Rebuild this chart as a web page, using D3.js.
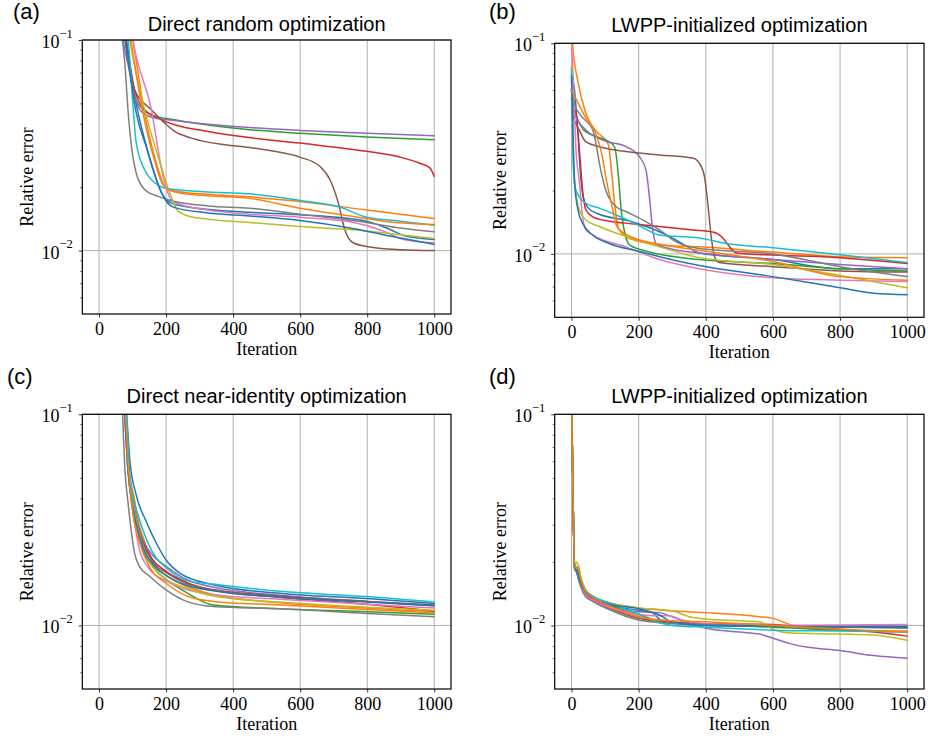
<!DOCTYPE html>
<html>
<head>
<meta charset="utf-8">
<script src="https://cdn.jsdelivr.net/npm/d3@7"></script>
<style>
  html, body { margin: 0; padding: 0; background: #fff; }
  svg { display: block; }
</style>
</head>
<body>
<svg id="chart" width="928" height="739"></svg>
<script>
// ---------------- DATA ----------------
const panelLabels = ["(a)", "(b)", "(c)", "(d)"];
const panelTitles = [
  "Direct random optimization",
  "LWPP-initialized optimization",
  "Direct near-identity optimization",
  "LWPP-initialized optimization"
];
const xTicks = [0, 200, 400, 600, 800, 1000];
const xDomain = [-50, 1050];
const yDomain = [0.005, 0.1];
const yMajorTicks = [0.1, 0.01];
const yMajorExponents = ["\u22121", "\u22122"];
const yMinorTicks = [0.006, 0.007, 0.008, 0.009, 0.02, 0.03, 0.04, 0.05, 0.06, 0.07, 0.08, 0.09];
const xLabel = "Iteration";
const yLabel = "Relative error";

// matplotlib tab10 cycle, 12 runs per panel
const palette = ["#1f77b4","#ff7f0e","#2ca02c","#d62728","#9467bd","#8c564b","#e377c2","#7f7f7f","#bcbd22","#17becf"];
const runColorIndex = [0,1,2,3,4,5,6,7,8,9,0,1];

// each run: [iteration, relative error]
const runsA = [
  [[65,0.14],[77,0.1],[106,0.054],[126,0.0388],[156,0.026],[186,0.0188],[216,0.0168],[256,0.0162],[449,0.0152],[599,0.0148],[798,0.0138],[868,0.0126],[908,0.0118],[1000,0.0113]],
  [[88,0.13],[101,0.1],[136,0.045],[171,0.026],[196,0.0202],[226,0.0192],[325,0.0185],[449,0.018],[599,0.0171],[798,0.0156],[1000,0.0142]],
  [[68,0.14],[80,0.1],[95,0.068],[110,0.052],[130,0.047],[156,0.0441],[226,0.0418],[449,0.0375],[599,0.0361],[798,0.0346],[1000,0.0336]],
  [[70,0.14],[82,0.1],[106,0.058],[136,0.0466],[176,0.0426],[226,0.0396],[325,0.0368],[449,0.0344],[599,0.0324],[798,0.0296],[898,0.0278],[957,0.026],[987,0.0247],[1000,0.0225]],
  [[62,0.14],[72,0.1],[90,0.072],[105,0.055],[126,0.0457],[156,0.043],[226,0.0415],[449,0.0384],[599,0.0372],[798,0.0361],[1000,0.0351]],
  [[66,0.14],[80,0.1],[106,0.058],[156,0.0466],[196,0.0403],[226,0.0368],[276,0.0342],[375,0.0318],[449,0.0309],[524,0.0296],[599,0.0278],[659,0.0251],[689,0.0217],[714,0.0168],[733,0.0126],[758,0.0109],[808,0.0104],[900,0.0101],[1000,0.01]],
  [[90,0.13],[101,0.1],[156,0.0467],[191,0.0225],[216,0.0174],[246,0.0165],[325,0.0156],[449,0.0149],[599,0.0144],[749,0.0137],[848,0.0124],[908,0.0113],[1000,0.0109]],
  [[62,0.14],[70,0.1],[77,0.077],[87,0.045],[97,0.031],[111,0.0233],[136,0.0195],[176,0.0181],[226,0.0171],[325,0.0163],[449,0.0159],[599,0.0149],[798,0.0136],[898,0.0128],[1000,0.0123]],
  [[82,0.13],[92,0.1],[126,0.054],[176,0.028],[211,0.0188],[236,0.0154],[266,0.0146],[325,0.0141],[449,0.0136],[599,0.013],[798,0.0124],[898,0.0119],[1000,0.0114]],
  [[75,0.14],[87,0.1],[111,0.0324],[136,0.0242],[166,0.021],[196,0.0198],[226,0.0195],[325,0.019],[449,0.0186],[599,0.0173],[718,0.0161],[798,0.0144],[898,0.0138],[1000,0.0132]],
  [[68,0.14],[79,0.1],[111,0.045],[141,0.031],[171,0.0217],[201,0.0171],[226,0.016],[325,0.0151],[449,0.0146],[599,0.0139],[749,0.0128],[848,0.0119],[1000,0.0107]],
  [[84,0.13],[95,0.1],[130,0.046],[165,0.027],[191,0.0205],[226,0.019],[325,0.0182],[449,0.0177],[599,0.0159],[749,0.0146],[848,0.0138],[1000,0.0133]]
];

const runsB = [
  [[0,0.07],[8,0.062],[18,0.04],[26,0.025],[35,0.0185],[50,0.0165],[75,0.0156],[175,0.0143],[274,0.0125],[330,0.0112],[381,0.0101],[600,0.0094],[800,0.0085],[1000,0.0085]],
  [[0,0.12],[3,0.1],[20,0.065],[40,0.048],[75,0.038],[100,0.035],[110,0.033],[120,0.024],[130,0.0165],[140,0.0132],[175,0.0118],[275,0.011],[381,0.0108],[600,0.0102],[800,0.0097],[1000,0.0096]],
  [[0,0.065],[10,0.048],[20,0.043],[35,0.039],[75,0.036],[114,0.034],[129,0.032],[139,0.0242],[149,0.0156],[159,0.0125],[174,0.011],[224,0.0103],[381,0.0094],[600,0.009],[800,0.0085],[1000,0.0083]],
  [[0,0.06],[5,0.05],[13,0.0466],[23,0.032],[33,0.0201],[43,0.0162],[63,0.015],[112,0.0143],[162,0.014],[262,0.0135],[361,0.013],[421,0.0127],[451,0.0119],[471,0.0108],[491,0.0101],[580,0.0099],[800,0.0096],[1000,0.009]],
  [[0,0.06],[8,0.0466],[43,0.0388],[92,0.0347],[162,0.0323],[202,0.029],[222,0.025],[232,0.0187],[242,0.013],[252,0.0112],[292,0.0106],[381,0.0101],[600,0.0094],[800,0.0089],[1000,0.0085]],
  [[0,0.055],[5,0.045],[23,0.0388],[43,0.034],[83,0.0323],[162,0.0306],[262,0.0295],[361,0.0285],[381,0.0269],[396,0.0233],[406,0.0174],[416,0.0121],[426,0.0097],[441,0.0091],[600,0.0087],[800,0.0083],[1000,0.0082]],
  [[0,0.095],[5,0.07],[13,0.032],[23,0.0224],[33,0.015],[43,0.013],[63,0.0123],[162,0.0108],[262,0.0094],[381,0.0085],[600,0.0077],[800,0.0075],[1000,0.0074]],
  [[0,0.06],[8,0.052],[30,0.045],[63,0.039],[75,0.032],[83,0.027],[102,0.0201],[132,0.0168],[162,0.0159],[212,0.0145],[262,0.013],[312,0.0114],[381,0.0106],[600,0.01],[800,0.0087],[1000,0.0078]],
  [[0,0.078],[3,0.04],[8,0.0233],[23,0.0162],[43,0.0145],[83,0.0135],[162,0.0121],[262,0.0108],[381,0.0096],[600,0.0089],[800,0.0079],[1000,0.0069]],
  [[0,0.075],[3,0.04],[6,0.025],[10,0.021],[23,0.0187],[43,0.0174],[83,0.0165],[162,0.0146],[202,0.0136],[262,0.0123],[381,0.0119],[461,0.0112],[600,0.0107],[800,0.0099],[1000,0.0091]],
  [[0,0.07],[5,0.035],[10,0.021],[20,0.016],[33,0.014],[63,0.0123],[112,0.0112],[200,0.0103],[262,0.0097],[381,0.0088],[600,0.0078],[800,0.0069],[900,0.0065],[1000,0.0064]],
  [[0,0.06],[20,0.052],[40,0.045],[70,0.038],[90,0.03],[105,0.022],[120,0.017],[135,0.0135],[180,0.012],[280,0.011],[381,0.0104],[600,0.0092],[800,0.0078],[1000,0.0075]]
];

const runsC = [
  [[70,0.15],[82,0.1],[92,0.06],[110,0.042],[141,0.031],[171,0.0245],[201,0.0203],[241,0.0177],[340,0.0156],[539,0.0142],[800,0.0134],[1000,0.0127]],
  [[68,0.15],[80,0.1],[90,0.055],[105,0.04],[116,0.0316],[140,0.024],[171,0.019],[201,0.0172],[241,0.0158],[340,0.014],[539,0.0128],[800,0.0121],[1000,0.0116]],
  [[64,0.15],[76,0.1],[86,0.055],[100,0.035],[125,0.024],[160,0.019],[201,0.0165],[261,0.0143],[340,0.0125],[539,0.012],[800,0.0116],[1000,0.0113]],
  [[66,0.15],[78,0.1],[88,0.055],[105,0.035],[130,0.025],[160,0.0205],[201,0.018],[261,0.016],[340,0.0147],[539,0.0136],[800,0.0126],[1000,0.0117]],
  [[66,0.15],[78,0.1],[88,0.055],[100,0.04],[125,0.027],[160,0.0215],[201,0.019],[261,0.0165],[340,0.0152],[539,0.0139],[800,0.013],[1000,0.0124]],
  [[66,0.15],[78,0.1],[88,0.055],[105,0.035],[130,0.025],[160,0.02],[201,0.0178],[261,0.0158],[340,0.0148],[539,0.0138],[800,0.013],[1000,0.0125]],
  [[64,0.15],[76,0.1],[86,0.055],[100,0.036],[120,0.023],[150,0.0185],[201,0.0162],[261,0.0148],[340,0.014],[539,0.0133],[800,0.0126],[1000,0.0121]],
  [[60,0.15],[70,0.1],[77,0.055],[85,0.04],[92,0.0316],[106,0.022],[121,0.019],[151,0.0171],[201,0.0147],[261,0.013],[340,0.0123],[539,0.012],[800,0.0114],[1000,0.011]],
  [[66,0.15],[78,0.1],[88,0.055],[105,0.035],[130,0.024],[165,0.0185],[201,0.0165],[261,0.015],[340,0.0138],[539,0.0129],[800,0.0122],[1000,0.0118]],
  [[70,0.15],[82,0.1],[90,0.055],[100,0.042],[121,0.0316],[161,0.022],[201,0.0187],[261,0.0163],[340,0.0157],[539,0.0145],[800,0.0137],[1000,0.0129]],
  [[64,0.15],[76,0.1],[86,0.055],[100,0.037],[125,0.025],[160,0.0195],[201,0.0172],[261,0.0155],[340,0.0146],[539,0.0136],[800,0.0129],[1000,0.0124]],
  [[66,0.15],[78,0.1],[88,0.055],[100,0.035],[120,0.025],[150,0.019],[201,0.0158],[261,0.0138],[340,0.013],[539,0.0125],[800,0.0119],[1000,0.0115]]
];

const runsD = [
  [[0,0.15],[3,0.06],[6,0.03],[9,0.0195],[13,0.0185],[18,0.0188],[25,0.0165],[40,0.0145],[63,0.0135],[112,0.0125],[200,0.0118],[240,0.0115],[262,0.0107],[300,0.0102],[400,0.01],[600,0.0099],[1000,0.0099]],
  [[0,0.15],[3,0.06],[6,0.03],[9,0.0195],[15,0.0185],[20,0.019],[28,0.0165],[40,0.0148],[63,0.0135],[112,0.0128],[200,0.0121],[311,0.0117],[401,0.0115],[560,0.011],[600,0.0108],[650,0.0101],[700,0.0097],[900,0.0094],[1000,0.0094]],
  [[0,0.15],[3,0.06],[6,0.03],[9,0.019],[15,0.0182],[25,0.016],[40,0.0144],[63,0.0134],[112,0.0124],[200,0.0113],[250,0.0106],[300,0.0103],[400,0.0101],[600,0.0098],[800,0.0095],[1000,0.0093]],
  [[0,0.15],[3,0.06],[6,0.03],[9,0.019],[15,0.0182],[25,0.016],[40,0.0143],[63,0.0133],[112,0.0123],[200,0.011],[262,0.0104],[400,0.0102],[600,0.0101],[700,0.0098],[800,0.0096],[900,0.0093],[1000,0.0089]],
  [[0,0.15],[3,0.06],[6,0.03],[9,0.019],[15,0.0185],[25,0.0165],[40,0.0142],[63,0.0132],[112,0.0122],[200,0.0116],[262,0.0115],[292,0.0111],[341,0.0104],[401,0.0097],[501,0.0093],[560,0.0091],[600,0.0087],[650,0.0082],[700,0.0079],[800,0.0076],[900,0.0072],[1000,0.007]],
  [[0,0.15],[3,0.06],[6,0.03],[9,0.0188],[15,0.018],[25,0.0158],[40,0.014],[63,0.0131],[112,0.0121],[200,0.0108],[262,0.0104],[400,0.0101],[600,0.0099],[1000,0.0098]],
  [[0,0.15],[3,0.06],[6,0.03],[9,0.019],[15,0.0182],[25,0.016],[40,0.0141],[63,0.0132],[112,0.0122],[200,0.0113],[250,0.0111],[290,0.0111],[330,0.0106],[400,0.0102],[600,0.01],[1000,0.0101]],
  [[0,0.15],[3,0.06],[6,0.03],[9,0.0185],[15,0.0178],[25,0.0157],[40,0.0138],[63,0.013],[112,0.0119],[200,0.0106],[262,0.0103],[400,0.0101],[600,0.0099],[800,0.0098],[1000,0.0097]],
  [[0,0.15],[3,0.06],[6,0.03],[10,0.019],[15,0.02],[20,0.0195],[28,0.017],[40,0.015],[63,0.0137],[112,0.0128],[200,0.0121],[262,0.0119],[301,0.0117],[361,0.0109],[450,0.0106],[560,0.0104],[600,0.0096],[650,0.0092],[800,0.0091],[900,0.009],[1000,0.0085]],
  [[0,0.15],[3,0.06],[6,0.03],[9,0.0195],[15,0.0188],[25,0.0168],[40,0.0148],[63,0.0138],[112,0.0128],[200,0.0113],[262,0.0103],[300,0.01],[400,0.0098],[600,0.0095],[800,0.0094],[1000,0.0093]],
  [[0,0.15],[3,0.06],[6,0.03],[9,0.019],[15,0.0183],[25,0.0163],[40,0.0146],[63,0.0136],[112,0.0126],[200,0.012],[262,0.0112],[300,0.0104],[400,0.01],[1000,0.0098]],
  [[0,0.15],[3,0.06],[6,0.03],[9,0.0192],[15,0.0186],[20,0.0188],[28,0.0165],[40,0.0147],[63,0.0136],[112,0.0124],[200,0.011],[262,0.0106],[400,0.0104],[600,0.01],[800,0.0096],[1000,0.0093]]
];

const panelRuns = [runsA, runsB, runsC, runsD];

// ---------------- LAYOUT ----------------
const layout = [
  { left: 82.3,  right: 451, top: 40,    bottom: 314,   labelX: 13,  labelY: 18.5, titleY: 31 },
  { left: 554.7, right: 924, top: 43.3,  bottom: 317.3, labelX: 489, labelY: 19,   titleY: 31.5 },
  { left: 82.3,  right: 451, top: 414.3, bottom: 689,   labelX: 7,   labelY: 384,  titleY: 403 },
  { left: 554.7, right: 924, top: 414.3, bottom: 689,   labelX: 489, labelY: 384,  titleY: 403 }
];

const serif = "'Liberation Serif', 'Times New Roman', serif";
const sans = "'Liberation Sans', Arial, sans-serif";

const svg = d3.select("#chart");

layout.forEach((L, i) => {
  const x = d3.scaleLinear().domain(xDomain).range([L.left, L.right]);
  const y = d3.scaleLog().domain(yDomain).range([L.bottom, L.top]);
  const g = svg.append("g");

  const clipId = "clip" + i;
  svg.append("clipPath").attr("id", clipId)
    .append("rect")
    .attr("x", L.left).attr("y", L.top)
    .attr("width", L.right - L.left).attr("height", L.bottom - L.top);

  // grid
  g.append("g").selectAll("line").data(xTicks).join("line")
    .attr("x1", d => x(d)).attr("x2", d => x(d))
    .attr("y1", L.top).attr("y2", L.bottom)
    .attr("stroke", "#b0b0b0").attr("stroke-width", 1);
  g.append("g").selectAll("line").data(yMajorTicks).join("line")
    .attr("x1", L.left).attr("x2", L.right)
    .attr("y1", d => y(d)).attr("y2", d => y(d))
    .attr("stroke", "#b0b0b0").attr("stroke-width", 1);

  // runs
  const line = d3.line()
    .x(d => x(d[0])).y(d => y(d[1]))
    .curve(d3.curveMonotoneX);
  g.append("g").attr("clip-path", `url(#${clipId})`)
    .selectAll("path").data(panelRuns[i]).join("path")
    .attr("d", line)
    .attr("fill", "none")
    .attr("stroke", (d, k) => palette[runColorIndex[k]])
    .attr("stroke-width", 1.5)
    .attr("stroke-linejoin", "round")
    .attr("stroke-linecap", "round");

  // x axis
  const xAxis = g.append("g").attr("transform", `translate(0,${L.bottom})`)
    .call(d3.axisBottom(x).tickValues(xTicks).tickSize(3.5).tickPadding(5).tickFormat(d3.format("d")));
  xAxis.select(".domain").remove();
  xAxis.selectAll(".tick line").attr("stroke", "#000").attr("stroke-width", 0.8);
  xAxis.selectAll(".tick text")
    .attr("font-family", serif).attr("font-size", 18).attr("fill", "#000")
    .attr("dy", null).attr("y", 21);

  // y axis minor ticks
  const yMinor = g.append("g").attr("transform", `translate(${L.left},0)`)
    .call(d3.axisLeft(y).tickValues(yMinorTicks).tickSize(2).tickFormat(""));
  yMinor.select(".domain").remove();
  yMinor.selectAll(".tick line").attr("stroke", "#000").attr("stroke-width", 0.6);

  // y axis major ticks with 10^n labels
  const yMajor = g.append("g").attr("transform", `translate(${L.left},0)`)
    .call(d3.axisLeft(y).tickValues(yMajorTicks).tickSize(3.5).tickFormat(""));
  yMajor.select(".domain").remove();
  yMajor.selectAll(".tick line").attr("stroke", "#000").attr("stroke-width", 0.8);
  yMajor.selectAll(".tick").each(function(d, k) {
    const t = d3.select(this).append("text")
      .attr("x", -9.5).attr("y", 7.5)
      .attr("text-anchor", "end")
      .attr("font-family", serif).attr("font-size", 18).attr("fill", "#000");
    t.append("tspan").text("10");
    t.append("tspan").attr("dy", -10.5).attr("font-size", 12.5).text(yMajorExponents[k]);
  });

  // frame
  g.append("rect")
    .attr("x", L.left).attr("y", L.top)
    .attr("width", L.right - L.left).attr("height", L.bottom - L.top)
    .attr("fill", "none").attr("stroke", "#000").attr("stroke-width", 1.2);

  // labels
  g.append("text")
    .attr("x", (L.left + L.right) / 2).attr("y", L.bottom + 41)
    .attr("text-anchor", "middle")
    .attr("font-family", serif).attr("font-size", 18).attr("fill", "#000")
    .text(xLabel);
  g.append("text")
    .attr("transform", `translate(${L.left - 49},${(L.top + L.bottom) / 2}) rotate(-90)`)
    .attr("text-anchor", "middle")
    .attr("font-family", serif).attr("font-size", 18).attr("fill", "#000")
    .text(yLabel);
  g.append("text")
    .attr("x", (L.left + L.right) / 2).attr("y", L.titleY)
    .attr("text-anchor", "middle")
    .attr("font-family", sans).attr("font-size", 20).attr("fill", "#000")
    .text(panelTitles[i]);
  g.append("text")
    .attr("x", L.labelX).attr("y", L.labelY)
    .attr("font-family", sans).attr("font-size", 22).attr("fill", "#000")
    .text(panelLabels[i]);
});
</script>
</body>
</html>
